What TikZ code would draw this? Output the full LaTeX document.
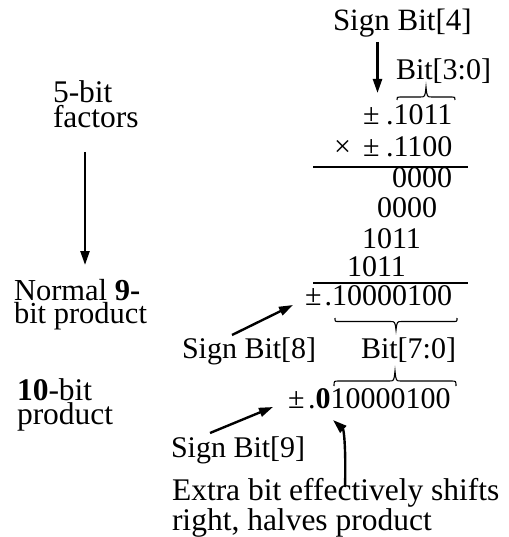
\documentclass[tikz,border=0pt]{standalone}
\usepackage{fontspec}
\setmainfont{Liberation Serif}
\usetikzlibrary{arrows.meta}

% horizontal brace: x1, x2, y of the ends, direction (-1 = tip up), curl height, tip height
\newcommand{\bitbrace}[6]{%
  \draw[brc] (#1,#3) .. controls (#1,{#3+#4*#5}) .. ({#1+#5},{#3+#4*#5})
    -- ({(#1+#2)/2-6},{#3+#4*#5}) .. controls ({(#1+#2)/2-1},{#3+#4*#5}) .. ({(#1+#2)/2},{#3+#4*(#5+#6)})
    .. controls ({(#1+#2)/2+1},{#3+#4*#5}) .. ({(#1+#2)/2+6},{#3+#4*#5})
    -- ({#2-#5},{#3+#4*#5}) .. controls (#2,{#3+#4*#5}) .. (#2,#3);}

\begin{document}
\begin{tikzpicture}[x=1pt,y=-1pt,
  txt/.style={inner sep=0pt, outer sep=0pt, anchor=base west,
              font=\fontsize{30}{25}\selectfont},
  captxt/.style={txt, align=left},
  arr/.style={line width=2.4pt, -{Triangle[length=14pt,width=9pt]}},
  rulel/.style={line width=1.8pt},
  brc/.style={line width=1.1pt}]
\useasboundingbox (0,0) rectangle (508,537);

% left column captions (base anchor = last line)
\node[captxt, font=\fontsize{31.5}{25}\selectfont] (five) at (53,128) {5-bit\\factors};
\node[captxt, font=\fontsize{30.5}{23}\selectfont] (nine) at (14,323) {Normal \textbf{9-}\\bit product};
\node[captxt, font=\fontsize{31.5}{22}\selectfont] (ten) at (17,424) {\textbf{10}-bit\\product};
\draw[arr] ([shift={(32,24)}]five.base west) -- ([shift={(71,-58)}]nine.base west);

% factors
\node[txt, font=\fontsize{31}{25}\selectfont] (sb4) at (333,31) {Sign Bit[4]};
\node[txt] (b30) at (396,80) {Bit[3:0]};
\node[txt] (r1s) at (363,125) {±};
\node[txt] (r1) at (386,125) {.1011};
\node[txt] (mul) at (334,157) {×};
\node[txt] (r2s) at (363,157) {±};
\node[txt] (r2) at (386,157) {.1100};
\draw[arr] ([shift={(14.5,11)}]r1s.base west |- sb4.base) -- ([shift={(14.5,-32)}]r1s.base west);
\bitbrace{397}{455}{100}{-1}{3}{10}
\draw[rulel] (313,167) -- (468,167);

% partial products
\node[txt] (p1) at (392,188) {0000};
\node[txt] (p2) at (377,218) {0000};
\node[txt] (p3) at (362,248) {1011};
\node[txt] (p4) at (347,276) {1011};
\draw[rulel] (313,283) -- (468,283);

% 9-bit product
\node[txt] (r7s) at (305,305) {±};
\node[txt] (r7) at (324.5,305) {.10000100};
\bitbrace{335}{457}{318}{1}{3.5}{8.5}
\node[txt] (sb8) at (182,358) {Sign Bit[8]};
\node[txt] (b70) at (361,358) {Bit[7:0]};
\draw[arr] ([shift={(50,-23)}]sb8.base west) -- ([shift={(-12,0)}]r7s.base west);

% 10-bit product
\bitbrace{334}{456}{386}{-1}{5}{10}
\node[txt] (r9s) at (288,408) {±};
\node[txt] (r9) at (308,408) {.\textbf{0}10000100};
\node[txt] (sb9) at (171,457) {Sign Bit[9]};
\draw[arr] ([shift={(39,-24)}]sb9.base west) -- ([shift={(-15,-1)}]r9s.base west);

\node[captxt, font=\fontsize{31.5}{28}\selectfont] (extra) at (172,530)
  {Extra bit effectively shifts\\right, halves product};
\draw[arr] ([shift={(173,-43)}]extra.base west) .. controls +(1,-37) and +(11,10) .. ([shift={(25,12)}]r9.base west);
\end{tikzpicture}
\end{document}
